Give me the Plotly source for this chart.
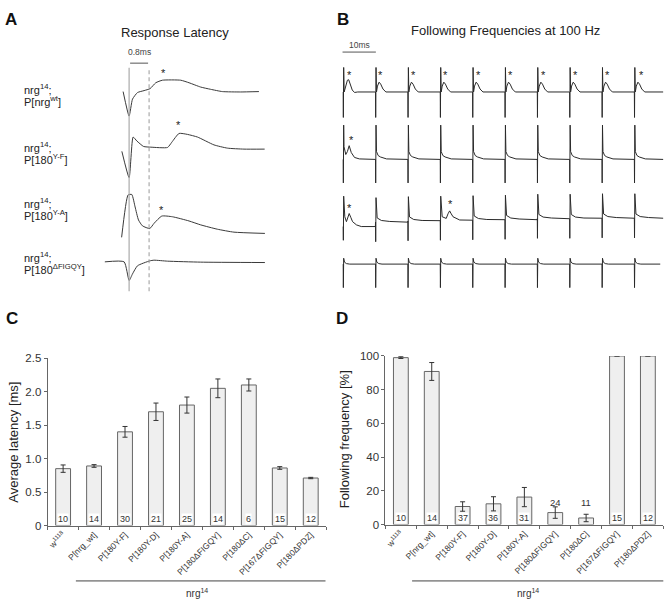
import plotly.graph_objects as go

W, H = 669, 608
FONT = "Liberation Sans, Arial, Helvetica, sans-serif"

# ================= DATA =================
# Panel A: response traces (time in ms from stimulus, amplitude in arbitrary units)
a_wt_t = [-0.24, 0, 0.136, 0.336, 0.6, 0.84, 1.068, 1.336, 2.068, 2.4, 2.868, 3.268, 3.736, 4.468, 5.2]
a_wt_v = [0, -25, -7.7, -1, 1, 3, 9, 11.6, 11.6, 9, 4.6, 2.3, 0, -0.4, 0]
a_yf_t = [-0.29, 0, 0.16, 0.31, 0.58, 0.87, 1.54, 1.71, 2.0, 2.34, 2.74, 3.4, 3.94, 4.6, 5.43]
a_yf_v = [-2.3, -29, 12.3, 8.3, 2.7, 2, 1.7, 7, 16, 15, 12.3, 4.3, 1, 0, 0]
a_ya_t = [-0.3, -0.04, 0.108, 0.24, 0.376, 0.536, 0.828, 1.0, 1.308, 1.736, 2.4, 2.868, 3.536, 4.2, 5.44]
a_ya_v = [-4, 39.3, 39.7, 27, 13.7, 7.7, 5, 10.3, 17.7, 17, 12.7, 8.7, 4.3, 1.3, 0]
a_dfigqy_t = [-0.972, -0.2, 0, 0.136, 0.336, 0.828, 1.0, 1.536, 2.868, 5.44]
a_dfigqy_v = [0, 0, -19, -12.3, -4, 1, 1.7, 0.7, -0.3, -0.7]
a_line1 = ["nrg<sup>14</sup>;"] * 4
a_line2 = ["P[nrg<sup>wt</sup>]", "P[180<sup>Y-F</sup>]", "P[180<sup>Y-A</sup>]", "P[180<sup>ΔFIGQY</sup>]"]
a_peak_t = [1.36, 1.96, 1.31]          # asterisk times (ms)
stim_latency_ms = 0.8

# Panel B: 100 Hz train, 10 sweeps; per-sweep waveform templates (ms, amplitude)
period_ms = 10
n_sweeps = 10
b_wt_first_t = [0, 0.05, 0.15, 0.3, 0.8, 1.3, 1.7, 2.2, 2.8, 3.5, 4.5, 9.95]
b_wt_first_v = [0, -26, 25, 0, 6, 12, 12.5, 8, 2, -0.5, 0, 0]
b_wt_next_t = [0, 0.05, 0.15, 0.3, 0.6, 1.1, 1.6, 2.3, 3.2, 9.95]
b_wt_next_v = [0, -26, 25, 0, 6, 10, 8, 3, 0, 0]
b_yf_first_t = [0, 0.05, 0.15, 0.25, 0.8, 1.3, 1.85, 2.5, 3.5, 5, 9.95]
b_yf_first_v = [0, -24, 35, 13, 5, 8, 14, 7, 2, 0.5, 0]
b_yf_next_t = [0, 0.05, 0.15, 0.3, 0.8, 1.5, 3.4, 9.95]
b_yf_next_v = [0, -24, 35, 8, 4, 2.5, 0.5, 0]
b_ya_first_t = [0, 0.05, 0.15, 0.5, 1.0, 1.4, 1.85, 2.4, 2.9, 4.1, 5.6, 9.95]
b_ya_first_v = [0, -14, 31, 10, 5, 10, 13.3, 9, 5, 1.7, 0, 0]
b_ya_next_t = [0, 0.05, 0.15, 0.5, 1.8, 4.4, 9.95]
b_ya_next_v = [0, -20, 25, 4.3, 1.7, 0.7, 0]
b_ya_resp_t = [0, 0.05, 0.15, 0.6, 1.85, 2.4, 2.9, 3.4, 3.95, 6, 9.95]
b_ya_resp_v = [0, -20, 25, 4, 2.3, 7, 10, 7, 4, 0.7, 0]
b_ya_levels = [-6, -1.5, -0.5, 0, 0.5, 1, 2, 2, 2.5, 2.5]   # per-sweep baseline drift
b_df_t = [0, 0.05, 0.15, 0.4, 1.0, 2, 9.95]
b_df_v = [0, -24, 6, 2, 0.5, 0, 0]
b_wt_types = ["first"] + ["next"] * 9
b_yf_types = ["first"] + ["next"] * 9
b_ya_types = ["first", "next", "next", "resp", "next", "next", "next", "next", "next", "next"]
b_df_types = ["next"] * 10
b_end_ms = [98.9, 98.9, 98.9, 98.0]
b_wt_star_t = [1.85, 1.6, 1.8, 1.75, 1.85, 1.75, 1.85, 1.75, 1.75, 2.3]
b_yf_star_t = [2.56]
b_ya_star_t = [1.85, 33.2]

# Panels C, D
genotypes = ["w<sup>1118</sup>", "P[nrg_wt]", "P[180Y-F]", "P[180Y-D]", "P[180Y-A]",
             "P[180ΔFIGQY]", "P[180ΔC]", "P[167ΔFIGQY]", "P[180ΔPDZ]"]
latency_mean = [0.85, 0.89, 1.40, 1.70, 1.80, 2.05, 2.10, 0.86, 0.71]
latency_err = [0.055, 0.02, 0.08, 0.13, 0.12, 0.14, 0.09, 0.02, 0.01]
latency_n = [10, 14, 30, 21, 25, 14, 6, 15, 12]
follow_mean = [99, 90.8, 10.7, 12.3, 16.3, 7.1, 3.9, 100, 100]
follow_err = [0.5, 5.3, 2.8, 4.2, 5.7, 3.4, 2.2, 0, 0]
follow_n = [10, 14, 37, 36, 31, 24, 11, 15, 12]
latency_ticks = [0, 0.5, 1.0, 1.5, 2.0, 2.5]
latency_ticktext = ["0", "0.5", "1.0", "1.5", "2.0", "2.5"]
follow_ticks = [0, 20, 40, 60, 80, 100]

# ================= LAYOUT HELPERS =================
def xd(p0, p1):
    return [p0 / W, p1 / W]

def yd(ptop, pbot):
    return [1 - pbot / H, 1 - ptop / H]

def px(x):
    return x / W

def py(y):
    return 1 - y / H

TRACE_BOTTOM, TRACE_TOP = 292, 35          # pixel rows of trace axes
def tv(pyv):                                # pixel row -> trace-axis value
    return TRACE_BOTTOM - pyv

A_X0, A_PX_PER_MS = 128.3, 25.0
B_X0, B_PX_PER_MS = 342.7, 3.24
A_OFFS = [tv(87.3), tv(146), tv(232), tv(261)]
B_OFFS = [tv(87.7), tv(156.5), tv(219), tv(263.3)]
SHORT_BAR_LABEL_Y = 12.8                   # D: height of n-labels above short bars

fig = go.Figure()

# ---------- Panel A traces ----------
a_series = [(a_wt_t, a_wt_v), (a_yf_t, a_yf_v), (a_ya_t, a_ya_v), (a_dfigqy_t, a_dfigqy_v)]
for (t, v), off in zip(a_series, A_OFFS):
    fig.add_trace(go.Scatter(x=t, y=[vv + off for vv in v], mode="lines",
                             line=dict(color="#3a3a3a", width=1, shape="spline", smoothing=0.5),
                             xaxis="x", yaxis="y", showlegend=False, hoverinfo="skip"))

# ---------- Panel B traces ----------
def build(types, templates, levels, end):
    xs, ys = [], []
    for k, typ in enumerate(types):
        tt, vv = templates[typ]
        for t, v in zip(tt, vv):
            T = k * period_ms + t
            if T > end:
                break
            xs.append(T)
            ys.append(v + levels[k])
    xs.append(end)
    ys.append(levels[-1])
    return xs, ys

zeros = [0] * n_sweeps
rows = [
    (b_wt_types, {"first": (b_wt_first_t, b_wt_first_v), "next": (b_wt_next_t, b_wt_next_v)}, zeros),
    (b_yf_types, {"first": (b_yf_first_t, b_yf_first_v), "next": (b_yf_next_t, b_yf_next_v)}, zeros),
    (b_ya_types, {"first": (b_ya_first_t, b_ya_first_v), "next": (b_ya_next_t, b_ya_next_v),
                  "resp": (b_ya_resp_t, b_ya_resp_v)}, b_ya_levels),
    (b_df_types, {"next": (b_df_t, b_df_v)}, zeros),
]
for (types, tmpl, lev), off, end in zip(rows, B_OFFS, b_end_ms):
    xs, ys = build(types, tmpl, lev, end)
    fig.add_trace(go.Scatter(x=xs, y=[y + off for y in ys], mode="lines",
                             line=dict(color="#2a2a2a", width=1),
                             xaxis="x2", yaxis="y2", showlegend=False, hoverinfo="skip"))

# ---------- Panel C / D bars ----------
bar_style = dict(marker=dict(color="#efefef", line=dict(color="#666666", width=1)),
                 width=0.48, showlegend=False, hoverinfo="skip", cliponaxis=False)
fig.add_trace(go.Bar(x=genotypes, y=latency_mean,
                     error_y=dict(type="data", array=latency_err, color="#333", thickness=1, width=2.5),
                     xaxis="x3", yaxis="y3", **bar_style))
fig.add_trace(go.Bar(x=genotypes, y=follow_mean,
                     error_y=dict(type="data", array=follow_err, color="#333", thickness=1, width=2.5),
                     xaxis="x4", yaxis="y4", **bar_style))

ann = []
shapes = []

def text(x, y, s, size, **kw):
    d = dict(x=x, y=y, text=s, showarrow=False, font=dict(size=size, color=kw.pop("color", "#222"), family=FONT),
             xref=kw.pop("xref", "paper"), yref=kw.pop("yref", "paper"))
    d.update(kw)
    ann.append(d)

# panel letters
for s, x, y in [("A", 2, 13.5), ("B", 335, 13.5), ("C", 3, 319), ("D", 333, 319)]:
    text(px(x), py(y), "<b>%s</b>" % s, 17, xanchor="left", yanchor="middle", color="#111")

# titles
text(px(174), py(27), "Response Latency", 13, xanchor="center", yanchor="middle")
text(px(505), py(25), "Following Frequencies at 100 Hz", 13, xanchor="center", yanchor="middle")

# A row labels
a_lab_y = [(85, 97), (144, 156), (201, 213), (256, 268)]
for l1, l2, (y1, y2) in zip(a_line1, a_line2, a_lab_y):
    text(px(21), py(y1), l1, 11, xanchor="left", yanchor="middle")
    text(px(21), py(y2), l2, 11, xanchor="left", yanchor="middle")

# A vertical reference lines and scale bar
shapes.append(dict(type="line", xref="x", yref="paper", x0=0, x1=0, y0=py(291), y1=py(63),
                   line=dict(color="#aaaaaa", width=1.2)))
shapes.append(dict(type="line", xref="x", yref="paper", x0=stim_latency_ms, x1=stim_latency_ms,
                   y0=py(291), y1=py(63), line=dict(color="#9a9a9a", width=1, dash="4px,3px")))
shapes.append(dict(type="line", xref="x", yref="paper", x0=0.04, x1=stim_latency_ms - 0.04,
                   y0=py(58.3), y1=py(58.3), line=dict(color="#555", width=1)))
text(stim_latency_ms / 2, py(46.5), "0.8ms", 8.5, xref="x", xanchor="center", yanchor="middle", color="#444")

# A asterisks
for t, yy in zip(a_peak_t, [66, 119.3, 206]):
    text(t, tv(yy + 2.5), "*", 11, xref="x", yref="y", xanchor="center", yanchor="middle")

# B scale bar
shapes.append(dict(type="line", xref="x2", yref="paper", x0=-0.2, x1=period_ms + 0.1,
                   y0=py(47), y1=py(47), line=dict(color="#555", width=1)))
text(period_ms / 2, py(40), "10ms", 8.5, xref="x2", xanchor="center", yanchor="middle", color="#444")

# B asterisks
for k, t in enumerate(b_wt_star_t):
    text(k * period_ms + t, tv(67.5 + 2.5), "*", 11, xref="x2", yref="y2", xanchor="center", yanchor="middle")
text(b_yf_star_t[0], tv(134.3 + 2.5), "*", 11, xref="x2", yref="y2", xanchor="center", yanchor="middle")
for t, yy in zip(b_ya_star_t, [203.3, 200]):
    text(t, tv(yy + 2.5), "*", 11, xref="x2", yref="y2", xanchor="center", yanchor="middle")

# N labels in C and D
for g, n in zip(genotypes, latency_n):
    text(g, 0, str(n), 9, xref="x3", yref="y3", xanchor="center", yanchor="bottom", yshift=0.5,
         bgcolor="#ffffff", borderpad=0, color="#333")
for g, n, m in zip(genotypes, follow_n, follow_mean):
    if m < 10:
        text(g, SHORT_BAR_LABEL_Y, str(n), 9.5, xref="x4", yref="y4", xanchor="center", yanchor="middle",
             color="#333")
    else:
        text(g, 0, str(n), 9, xref="x4", yref="y4", xanchor="center", yanchor="bottom", yshift=0.5,
             bgcolor="#ffffff", borderpad=0, color="#333")

# axis titles
text(px(13), py(444.5), "Average latency [ms]", 13, textangle=-90, xanchor="center", yanchor="middle")
text(px(343.5), py(442), "Following frequency [%]", 13, textangle=-90, xanchor="center", yanchor="middle")

# nrg14 group lines
for x0, x1, xc in [(75, 325, 196.7), (411.7, 663.3, 528)]:
    shapes.append(dict(type="line", xref="paper", yref="paper", x0=px(x0), x1=px(x1),
                       y0=py(586.5), y1=py(586.5), line=dict(color="#444", width=1)))
    text(px(xc), py(598.5), "nrg<sup>14</sup>", 10, xanchor="center", yanchor="middle", color="#333")

hidden = dict(visible=False, fixedrange=True)
bar_x = dict(type="category", showline=True, linecolor="#666", linewidth=1, ticks="outside",
             ticklen=3, tickcolor="#666", tickson="boundaries", tickangle=-45,
             tickfont=dict(size=8.5, color="#333", family=FONT), showgrid=False, zeroline=False,
             range=[-0.5, 8.5], fixedrange=True)
bar_y = dict(showline=True, linecolor="#666", linewidth=1, ticks="outside", ticklen=3, tickcolor="#666",
             tickfont=dict(size=11.5, color="#333", family=FONT), showgrid=False, zeroline=False,
             fixedrange=True)

fig.update_layout(
    width=W, height=H, margin=dict(l=0, r=0, t=0, b=0),
    paper_bgcolor="white", plot_bgcolor="rgba(0,0,0,0)",
    font=dict(family=FONT, color="#222"),
    barmode="overlay", hovermode=False,
    xaxis=dict(domain=xd(100, 270), range=[(100 - A_X0) / A_PX_PER_MS, (270 - A_X0) / A_PX_PER_MS], **hidden),
    yaxis=dict(domain=yd(TRACE_TOP, TRACE_BOTTOM), range=[0, TRACE_BOTTOM - TRACE_TOP], **hidden),
    xaxis2=dict(domain=xd(336, 668), range=[(336 - B_X0) / B_PX_PER_MS, (668 - B_X0) / B_PX_PER_MS], **hidden),
    yaxis2=dict(domain=yd(TRACE_TOP, TRACE_BOTTOM), range=[0, TRACE_BOTTOM - TRACE_TOP], **hidden),
    xaxis3=dict(domain=xd(46.7, 325.7), anchor="y3", **bar_x),
    yaxis3=dict(domain=yd(359.3, 530), anchor="x3", range=[0, 2.5], tickvals=latency_ticks,
                ticktext=latency_ticktext, **bar_y),
    xaxis4=dict(domain=xd(385, 663.3), anchor="y4", **bar_x),
    yaxis4=dict(domain=yd(357, 529), anchor="x4", range=[0, 100], tickvals=follow_ticks, **bar_y),
    annotations=ann, shapes=shapes,
)

fig.write_html("out.html", config={"displayModeBar": False},
               post_script="document.body.style.margin='0';document.body.style.overflow='hidden';")
